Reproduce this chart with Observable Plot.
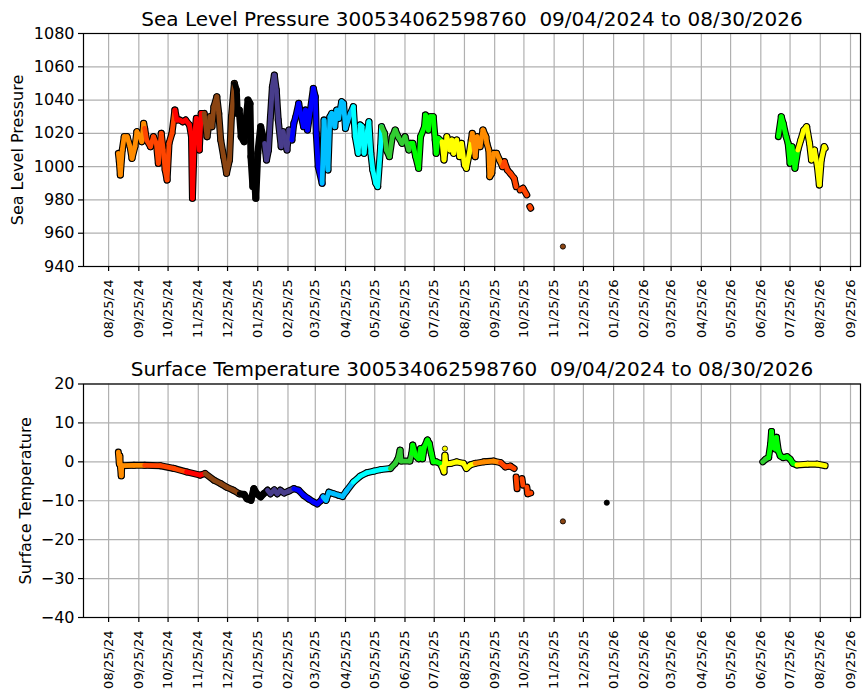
<!DOCTYPE html>
<html><head><meta charset="utf-8">
<script src="https://cdn.jsdelivr.net/npm/d3@7"></script>
<script src="https://cdn.jsdelivr.net/npm/@observablehq/plot@0.6"></script>
<style>
body{margin:0;background:#fff;font-family:"DejaVu Sans",sans-serif}
#wrap{position:relative;width:867px;height:700px;overflow:hidden}
#wrap svg{position:absolute;left:0}
</style></head><body><div id="wrap"></div>
<script>
// ---- Data ----
const buoyId = "300534062598760";
const dateRange = "09/04/2024 to 08/30/2026";

const xTickDates = ["2024-08-25","2024-09-25","2024-10-25","2024-11-25","2024-12-25",
  "2025-01-25","2025-02-25","2025-03-25","2025-04-25","2025-05-25","2025-06-25","2025-07-25",
  "2025-08-25","2025-09-25","2025-10-25","2025-11-25","2025-12-25","2026-01-25","2026-02-25",
  "2026-03-25","2026-04-25","2026-05-25","2026-06-25","2026-07-25","2026-08-25","2026-09-25"];
const pressureTicks = [940,960,980,1000,1020,1040,1060,1080];
const tempTicks = [-40,-30,-20,-10,0,10,20];

// month colour (Jan..Dec)
const monthColors = ["black","darkslateblue","blue","deepskyblue","cyan","limegreen",
  "lime","yellow","darkorange","orangered","red","saddlebrown"];

const pressureA = [
["2024-09-04",1008],["2024-09-05",1003],["2024-09-06",995],["2024-09-08",1010],["2024-09-10",1018],
["2024-09-13",1018],["2024-09-16",1012],["2024-09-18",1005],["2024-09-21",1012],["2024-09-23",1021],
["2024-09-26",1018],["2024-09-28",1015],["2024-09-30",1026],["2024-10-01",1023],["2024-10-03",1016],
["2024-10-07",1012],["2024-10-10",1018],["2024-10-13",1014],["2024-10-15",1002],["2024-10-18",1020],
["2024-10-20",1010],["2024-10-22",998],["2024-10-24",992],["2024-10-26",1014],["2024-10-29",1020],
["2024-11-01",1034],["2024-11-03",1028],["2024-11-06",1028],["2024-11-09",1027],["2024-11-12",1028],
["2024-11-16",1025],["2024-11-18",1018],["2024-11-19",981],["2024-11-21",1018],["2024-11-23",1029],
["2024-11-24",1018],["2024-11-26",1010],["2024-11-28",1032],["2024-12-01",1032],["2024-12-04",1018],
["2024-12-07",1030],["2024-12-09",1024],["2024-12-11",1036],["2024-12-14",1042],["2024-12-16",1032],
["2024-12-18",1016],["2024-12-21",1006],["2024-12-24",996],["2024-12-27",1004],["2024-12-29",1030],
["2025-01-01",1050],["2025-01-03",1046],["2025-01-04",1032],["2025-01-06",1034],["2025-01-08",1018],
["2025-01-11",1015],["2025-01-13",1028],["2025-01-15",1040],["2025-01-17",1038],["2025-01-18",1006],
["2025-01-20",988],["2025-01-21",998],["2025-01-23",981],["2025-01-25",1008],["2025-01-28",1024],
["2025-02-01",1014],["2025-02-03",1004],["2025-02-05",1010],["2025-02-07",1030],["2025-02-09",1048],
["2025-02-11",1055],["2025-02-13",1046],["2025-02-15",1028],["2025-02-18",1012],["2025-02-20",1021],
["2025-02-22",1015],["2025-02-24",1010],["2025-02-26",1022],["2025-03-01",1016],["2025-03-03",1026],
["2025-03-05",1030],["2025-03-08",1038],["2025-03-10",1032],["2025-03-13",1024],["2025-03-15",1034],
["2025-03-17",1022],["2025-03-20",1034],["2025-03-23",1047],["2025-03-25",1042],["2025-03-26",1020],
["2025-03-28",1000],["2025-04-01",990],["2025-04-03",1028],["2025-04-05",1010],["2025-04-07",998],
["2025-04-09",1030],["2025-04-11",1032],["2025-04-14",1024],["2025-04-16",1034],["2025-04-18",1029],
["2025-04-21",1039],["2025-04-23",1038],["2025-04-25",1023],["2025-04-27",1027],["2025-04-30",1032],
["2025-05-03",1036],["2025-05-05",1018],["2025-05-08",1008],["2025-05-10",1025],["2025-05-12",1024],
["2025-05-14",1008],["2025-05-17",1020],["2025-05-19",1027],["2025-05-21",1008],["2025-05-23",998],
["2025-05-26",990],["2025-05-28",988],["2025-05-31",1012],["2025-06-01",1024],["2025-06-04",1020],
["2025-06-06",1010],["2025-06-09",1006],["2025-06-12",1018],["2025-06-15",1022],["2025-06-18",1018],
["2025-06-22",1014],["2025-06-25",1018],["2025-06-29",1010],["2025-07-01",1014],["2025-07-03",1014],
["2025-07-06",1006],["2025-07-09",999],["2025-07-11",1018],["2025-07-15",1024],["2025-07-16",1031],
["2025-07-19",1022],["2025-07-21",1030],["2025-07-24",1030],["2025-07-26",1016],["2025-07-27",1008],
["2025-07-29",1017],["2025-08-02",1015],["2025-08-04",1004],["2025-08-07",1018],["2025-08-10",1010],
["2025-08-12",1016],["2025-08-14",1008],["2025-08-17",1016],["2025-08-20",1006],["2025-08-22",1014],
["2025-08-25",1001],["2025-08-27",999],["2025-08-30",1008],["2025-09-01",1016],["2025-09-02",1020],
["2025-09-05",1006],["2025-09-07",1018],["2025-09-10",1012],["2025-09-13",1022],["2025-09-16",1018],
["2025-09-17",1014],["2025-09-19",1010],["2025-09-20",994],["2025-09-22",996],["2025-09-24",1008],
["2025-09-27",1008],["2025-09-30",1004],["2025-10-03",1000],["2025-10-05",1003],["2025-10-08",998],
["2025-10-11",996],["2025-10-15",993],["2025-10-17",988]];
const pressureB = [["2025-10-21",986],["2025-10-24",987],["2025-10-28",983]];
const pressureC = [["2025-10-31",976],["2025-11-01",975]];
const pressureD = [["2025-12-04",952]];
const pressureE = [
["2026-07-13",1018],["2026-07-16",1030],["2026-07-18",1026],["2026-07-21",1018],["2026-07-23",1014],
["2026-07-25",1002],["2026-07-27",1012],["2026-07-30",999],["2026-08-02",1010],["2026-08-05",1016],
["2026-08-08",1022],["2026-08-11",1024],["2026-08-14",1014],["2026-08-16",1004],["2026-08-19",1010],
["2026-08-22",1000],["2026-08-24",989],["2026-08-26",1004],["2026-08-29",1012],["2026-08-30",1011]];

const tempA = [
["2024-09-04",2.5],["2024-09-05",-0.5],["2024-09-05T12:00",1.5],["2024-09-06",-1.0],["2024-09-07",-3.6],
["2024-09-07T12:00",-1.0],["2024-09-20",-0.9],["2024-10-01",-0.9],["2024-10-17",-1.0],["2024-10-31",-1.7],
["2024-11-13",-2.6],["2024-11-27",-3.4],["2024-12-02",-3.0],["2024-12-11",-4.7],["2024-12-18",-5.6],
["2024-12-24",-6.5],["2024-12-31",-7.3],["2025-01-06",-8.2],["2025-01-11",-8.4],["2025-01-14",-9.5],
["2025-01-18",-9.9],["2025-01-21",-6.9],["2025-01-24",-8.2],["2025-01-28",-9.0],["2025-01-31",-8.2],
["2025-02-04",-7.3],["2025-02-07",-8.2],["2025-02-11",-7.2],["2025-02-14",-8.2],["2025-02-17",-7.3],
["2025-02-21",-8.0],["2025-02-26",-7.5],["2025-03-03",-6.9],["2025-03-08",-7.3],["2025-03-13",-8.6],
["2025-03-18",-9.5],["2025-03-23",-10.3],["2025-03-27",-10.8],["2025-03-31",-9.9],["2025-04-02",-9.0],
["2025-04-05",-9.9],["2025-04-08",-7.8],["2025-04-13",-8.2],["2025-04-18",-8.6],["2025-04-22",-8.9],
["2025-04-26",-7.5],["2025-05-03",-5.2],["2025-05-10",-3.7],["2025-05-17",-2.8],["2025-05-24",-2.4],
["2025-05-31",-2.0],["2025-06-10",-1.7],["2025-06-15",-0.4],["2025-06-18",0.9],["2025-06-20",3.0],
["2025-06-21",0.2],["2025-06-30",0.2],["2025-07-02",2.2],["2025-07-03",4.3],["2025-07-06",1.5],
["2025-07-09",0.8],["2025-07-11",3.4],["2025-07-13",0.8],["2025-07-15",3.9],["2025-07-18",5.6],
["2025-07-20",4.7],["2025-07-22",2.2],["2025-07-24",0.0],["2025-07-27",0.0],["2025-07-31",-0.4],
["2025-08-02",-1.3],["2025-08-04",-2.6],["2025-08-05",1.7],["2025-08-06",-0.5],["2025-08-11",-0.4],
["2025-08-17",0.0],["2025-08-24",-0.4],["2025-08-27",-1.7],["2025-08-31",-0.8],["2025-09-05",-0.4],
["2025-09-14",0.0],["2025-09-24",0.2],["2025-10-01",-0.2],["2025-10-06",-1.3],["2025-10-11",-1.1],
["2025-10-15",-1.7]];
const tempB = [["2025-10-17",-3.9],["2025-10-18",-6.9]];
const tempC = [["2025-10-23",-4.3],["2025-10-24",-6.0]];
const tempD = [["2025-10-28",-6.5],["2025-10-29",-8.2],["2025-11-01",-8.0]];
const tempDots = [["2025-08-05",3.4],["2025-12-04",-15.3],["2026-01-18",-10.5]];
const tempE = [
["2026-06-27",0.0],["2026-06-30",0.7],["2026-07-03",1.1],["2026-07-05",4.5],["2026-07-06",7.8],
["2026-07-07",3.7],["2026-07-08",5.4],["2026-07-10",3.3],["2026-07-11",6.3],["2026-07-13",2.8],
["2026-07-15",1.5],["2026-07-18",1.1],["2026-07-22",1.3],["2026-07-25",0.7],["2026-07-28",-0.4],
["2026-08-01",-0.8],["2026-08-12",-0.6],["2026-08-22",-0.6],["2026-08-30",-1.0]];

// ---- helpers ----
const parse = s => new Date(s.length > 10 ? s + "Z" : s + "T00:00:00Z");
const colorOf = t => monthColors[t.getUTCMonth()];
function toLinks(segments){
  const out = [];
  for (const seg of segments){
    for (let i = 1; i < seg.length; i++){
      const a = parse(seg[i-1][0]), b = parse(seg[i][0]);
      out.push({t1:a, v1:seg[i-1][1], t2:b, v2:seg[i][1], c:colorOf(a)});
    }
  }
  return out;
}
const toPoints = arr => arr.map(([d,v]) => ({t:parse(d), v, c:colorOf(parse(d))}));

const xTicks = xTickDates.map(parse);
const xDomain = [new Date("2024-07-30T06:00:00Z"), new Date("2026-10-05T06:00:00Z")];
const fmt = d3.utcFormat("%m/%d/%y");

function panel({segments, dots, yDomain, yTicks, title, ylabel, ylabelDx, marginTop, marginBottom}){
  const links = toLinks(segments);
  const pts = toPoints(dots);
  return Plot.plot({
    width: 867, height: 350,
    marginLeft: 83, marginRight: 7, marginTop, marginBottom,
    style: {fontFamily: "DejaVu Sans", color: "black", background: "white", overflow: "visible"},
    x: {type: "utc", domain: xDomain},
    y: {domain: yDomain},
    marks: [
      Plot.gridX(xTicks, {stroke: "#b0b0b0", strokeOpacity: 1, strokeWidth: 1.2}),
      Plot.gridY(yTicks, {stroke: "#b0b0b0", strokeOpacity: 1, strokeWidth: 1.2}),
      Plot.link(links, {x1: "t1", y1: "v1", x2: "t2", y2: "v2", stroke: "black", strokeWidth: 7, strokeLinecap: "round", strokeLinejoin: "round"}),
      Plot.link(links, {x1: "t1", y1: "v1", x2: "t2", y2: "v2", stroke: "c", strokeWidth: 4.8, strokeLinecap: "round"}),
      Plot.dot(pts, {x: "t", y: "v", r: 2.6, fill: "c", stroke: "black", strokeWidth: 0.8}),
      Plot.frame({stroke: "black", strokeWidth: 1.2}),
      Plot.axisX(xTicks, {tickFormat: fmt, tickRotate: -90, fontSize: 13, tickSize: 5, tickPadding: 8, strokeWidth: 1.2, label: null}),
      Plot.axisY(yTicks, {tickFormat: d3.format("d"), fontSize: 16, tickSize: 5, tickPadding: 4, strokeWidth: 1.2, label: null}),
      Plot.text([title], {frameAnchor: "top", dy: -8, lineAnchor: "bottom", fontSize: 20, fill: "black"}),
      Plot.text([ylabel], {frameAnchor: "left", dx: ylabelDx, rotate: -90, textAnchor: "middle", lineAnchor: "middle", fontSize: 16, fill: "black"})
    ]
  });
}

const top1 = panel({
  segments: [pressureA, pressureB, pressureC, pressureE],
  dots: pressureD,
  yDomain: [940, 1080], yTicks: pressureTicks,
  title: `Sea Level Pressure ${buoyId}  ${dateRange}`,
  ylabel: "Sea Level Pressure", ylabelDx: -66,
  marginTop: 33, marginBottom: 84
});
const bot = panel({
  segments: [tempA, tempB, tempC, tempD, tempE],
  dots: tempDots,
  yDomain: [-40, 20], yTicks: tempTicks,
  title: `Surface Temperature ${buoyId}  ${dateRange}`,
  ylabel: "Surface Temperature", ylabelDx: -58,
  marginTop: 33.5, marginBottom: 83
});
top1.style.top = "0px";
bot.style.top = "350px";
const wrap = document.getElementById("wrap");
wrap.appendChild(top1);
wrap.appendChild(bot);
</script></body></html>
